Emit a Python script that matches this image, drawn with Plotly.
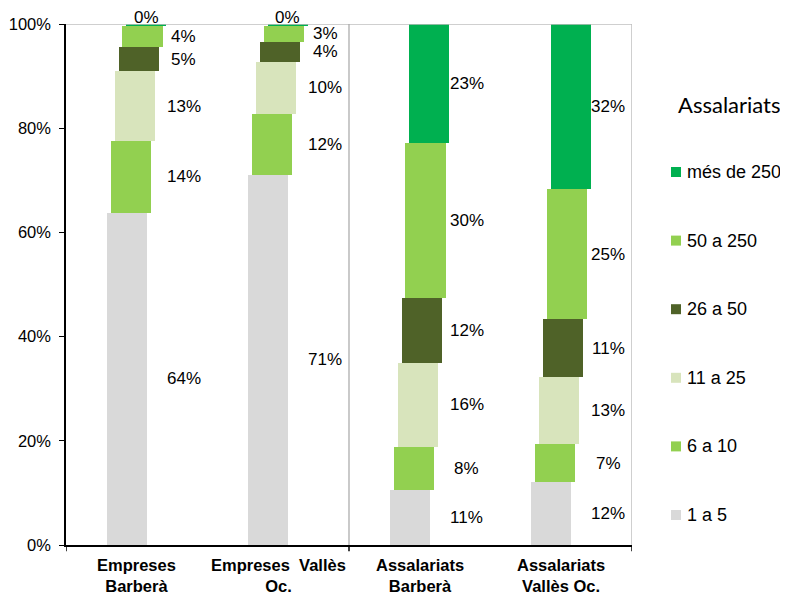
import plotly.graph_objects as go

# ── Dades ─────────────────────────────────────────────────────────────────────
categories = ["Empreses Barberà", "Empreses Vallès Oc.",
              "Assalariats Barberà", "Assalariats Vallès Oc."]
cat_labels = ["<b>Empreses</b><br><b>Barberà</b>", "<b>Empreses  Vallès</b><br><b>Oc.</b>",
              "<b>Assalariats</b><br><b>Barberà</b>", "<b>Assalariats</b><br><b>Vallès Oc.</b>"]

series = ["1 a 5", "6 a 10", "11 a 25", "26 a 50", "50 a 250", "més de 250"]
s_1a5 = [63.8, 71.1, 10.6, 12.0]
s_6a10 = [13.8, 11.7, 8.2, 7.3]
s_11a25 = [13.3, 9.9, 16.2, 12.9]
s_26a50 = [4.6, 3.9, 12.4, 11.2]
s_50a250 = [4.1, 3.0, 29.7, 24.9]
s_mes250 = [0.4, 0.4, 22.9, 31.7]
values = [s_1a5, s_6a10, s_11a25, s_26a50, s_50a250, s_mes250]

colors = ["#D9D9D9", "#92D050", "#D8E4BC", "#4F6228", "#92D050", "#00B050"]

FONT = "Liberation Sans, Arial, sans-serif"
xs = list(range(len(categories)))
W = 0.283
OFF0, STEP = -0.213, 0.028

# mides de la figura (la pàgina afegeix 8 px de marge al body)
FW, FH = 780, 588
ML, MR, MT, MB = 58, 156, 16, 51
PW, PH = FW - ML - MR, FH - MT - MB


def px_x(fx):
    return (fx - ML) / PW


def px_y(fy):
    return (FH - MB - fy) / PH


fig = go.Figure()
for i, (name, vals, col) in enumerate(zip(series, values, colors)):
    fig.add_trace(go.Bar(
        x=xs, y=vals, name=name, marker=dict(color=col, line_width=0),
        width=W, offset=OFF0 + i * STEP, showlegend=False,
    ))

# etiquetes de percentatge
annotations = []
for c in xs:
    cum = 0
    for i, vals in enumerate(values):
        v = vals[c]
        if v < 1:
            annotations.append(dict(
                x=c + OFF0 + i * STEP + W / 2, y=100, yshift=7,
                text=f"{v:.0f}%", showarrow=False,
                font=dict(family=FONT, size=17, color="#000"),
            ))
        else:
            annotations.append(dict(
                x=c, y=cum + v / 2, xshift=47,
                text=f"{v:.0f}%", showarrow=False,
                font=dict(family=FONT, size=17, color="#000"),
            ))
        cum += v

for c, lab in zip(xs, cat_labels):
    annotations.append(dict(
        x=c, y=0, yref="y", yshift=-30, text=lab, showarrow=False,
        font=dict(family=FONT, size=16.5, color="#000"),
    ))

# ── Llegenda dibuixada a mà ───────────────────────────────────────────────────
annotations.append(dict(
    xref="paper", yref="paper", x=px_x(721), y=px_y(96), text="Assalariats",
    showarrow=False, xanchor="center", yanchor="middle",
    font=dict(family="Lato, Open Sans, sans-serif", size=22, color="#000"),
))

shapes = []
for k, (name, col) in enumerate(zip(series, colors)):
    cy = 507 - k * 68.6
    shapes.append(dict(type="rect", xref="paper", yref="paper",
                       x0=px_x(663), x1=px_x(673), y0=px_y(cy + 5), y1=px_y(cy - 5),
                       fillcolor=col, line_width=0))
    annotations.append(dict(
        xref="paper", yref="paper", x=px_x(677), y=px_y(cy), text=name,
        showarrow=False, xanchor="left", yanchor="middle",
        font=dict(family=FONT, size=18, color="#000"),
    ))

shapes += [
    dict(type="line", xref="x", yref="y", x0=-0.5, x1=3.5, y0=100, y1=100,
         line=dict(color="#BFBFBF", width=1.5)),
    dict(type="line", xref="x", yref="y", x0=3.5, x1=3.5, y0=0, y1=100,
         line=dict(color="#BFBFBF", width=1.5)),
    dict(type="line", xref="x", yref="y", x0=1.5, x1=1.5, y0=0, y1=100,
         line=dict(color="#A6A6A6", width=1.2)),
]
for bx in [-0.5, 1.5, 3.5]:
    shapes.append(dict(type="line", xref="x", yref="paper", x0=bx, x1=bx,
                       y0=0, y1=-0.012, line=dict(color="#000", width=1.5)))

fig.update_layout(
    barmode="stack",
    width=FW, height=FH,
    margin=dict(l=ML, r=MR, t=MT, b=MB, autoexpand=False),
    paper_bgcolor="white", plot_bgcolor="white",
    showlegend=False,
    xaxis=dict(range=[-0.5, 3.5], showticklabels=False, showgrid=False,
               zeroline=False, showline=True, linecolor="#000", linewidth=1.5,
               fixedrange=True, automargin=False),
    yaxis=dict(range=[0, 100], dtick=20, ticksuffix="%", showgrid=False,
               zeroline=False, showline=True, linecolor="#000", linewidth=1.5,
               ticks="outside", ticklen=5, tickcolor="#000", ticklabelstandoff=5,
               automargin=False,
               tickfont=dict(family=FONT, size=16.5, color="#000")),
    annotations=annotations,
    shapes=shapes,
    bargap=0,
)

fig.write_html("out.html")
